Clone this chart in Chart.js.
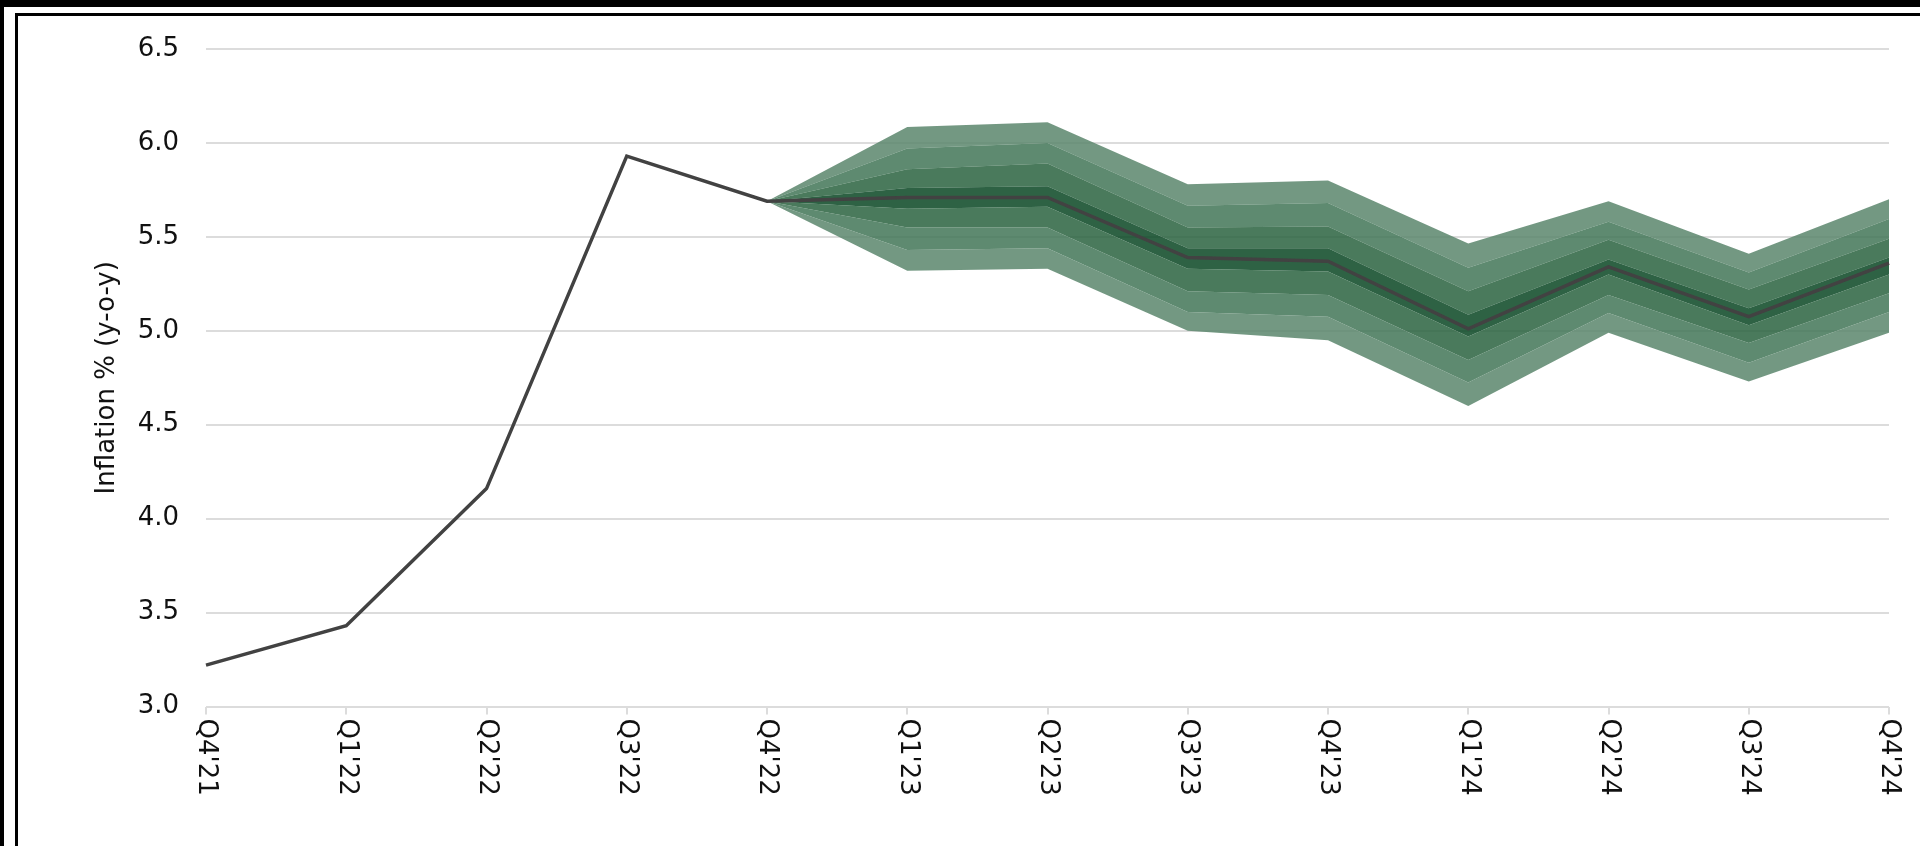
<!DOCTYPE html>
<html>
<head>
<meta charset="utf-8">
<script src="https://cdn.jsdelivr.net/npm/chart.js@4.4.0/dist/chart.umd.min.js"></script>
<style>
  html, body { margin: 0; padding: 0; background: #fff; overflow: hidden; }
  #wrap { position: relative; width: 1920px; height: 846px; }
  #myChart { position: absolute; left: 0; top: 0; }
  .frame { position: absolute; background: #000; }
</style>
</head>
<body>
<div id="wrap">
  <canvas id="myChart" width="1920" height="846"></canvas>
  <div class="frame" style="left:0;top:0;width:4px;height:846px"></div>
  <div class="frame" style="left:0;top:0;width:1920px;height:7px"></div>
  <div class="frame" style="left:15px;top:13px;width:3px;height:833px"></div>
  <div class="frame" style="left:15px;top:13px;width:1905px;height:3px"></div>
</div>
<script>
var quarters = ["Q4'21", "Q1'22", "Q2'22", "Q3'22", "Q4'22", "Q1'23", "Q2'23",
                "Q3'23", "Q4'23", "Q1'24", "Q2'24", "Q3'24", "Q4'24"];

// central projection (actuals up to Q4'22)
var inflation = [3.22, 3.43, 4.16, 5.93, 5.69, 5.71, 5.71, 5.39, 5.37, 5.01, 5.34, 5.075, 5.36];

// fan chart bands, outer to inner
var upper4 = [null, null, null, null, 5.69, 6.085, 6.11, 5.78, 5.80, 5.465, 5.69, 5.41, 5.70];
var upper3 = [null, null, null, null, 5.69, 5.97, 6.00, 5.665, 5.68, 5.335, 5.58, 5.31, 5.595];
var upper2 = [null, null, null, null, 5.69, 5.86, 5.89, 5.55, 5.555, 5.21, 5.485, 5.22, 5.49];
var upper1 = [null, null, null, null, 5.69, 5.76, 5.77, 5.44, 5.44, 5.085, 5.38, 5.12, 5.39];
var lower1 = [null, null, null, null, 5.69, 5.65, 5.66, 5.33, 5.315, 4.97, 5.30, 5.03, 5.30];
var lower2 = [null, null, null, null, 5.69, 5.55, 5.55, 5.21, 5.19, 4.845, 5.19, 4.935, 5.20];
var lower3 = [null, null, null, null, 5.69, 5.43, 5.44, 5.10, 5.075, 4.725, 5.095, 4.83, 5.10];
var lower4 = [null, null, null, null, 5.69, 5.32, 5.33, 5.00, 4.95, 4.60, 4.99, 4.73, 4.99];

var bandColors = [
  "rgba(90,134,108,0.85)",  // outer
  "rgba(66,117,87,0.85)",
  "rgba(42,99,63,0.85)",
  "rgba(9,71,35,0.85)"      // inner
];

var fontFamily = "'DejaVu Sans', Verdana, sans-serif";
var textColor = "#111111";

function band(data, fill, color) {
  return {
    data: data,
    fill: fill,
    backgroundColor: color,
    borderColor: "rgba(0,0,0,0)",
    borderWidth: 0,
    pointRadius: 0,
    tension: 0
  };
}

// x labels read top to bottom, so draw them by hand at the tick positions
var rotatedLabels = {
  id: "rotatedLabels",
  afterDraw: function(chart) {
    var scale = chart.scales.x;
    var ctx = chart.ctx;
    ctx.save();
    ctx.font = "26px " + fontFamily;
    ctx.fillStyle = textColor;
    ctx.textAlign = "left";
    ctx.textBaseline = "middle";
    chart.data.labels.forEach(function(label, i) {
      var x = scale.getPixelForTick(i);
      ctx.save();
      ctx.translate(x, scale.top + 12);
      ctx.rotate(Math.PI / 2);
      ctx.fillText(label, 0, 0);
      ctx.restore();
    });
    ctx.restore();
  }
};

var ctx = document.getElementById("myChart");
var fanChart = new Chart(ctx, {
  type: "line",
  data: {
    labels: quarters,
    datasets: [
      {
        data: inflation,
        fill: false,
        borderColor: "#424242",
        borderWidth: 3.5,
        pointRadius: 0,
        tension: 0
      },
      band(lower4, false, bandColors[0]),
      band(lower3, "-1", bandColors[0]),
      band(lower2, "-1", bandColors[1]),
      band(lower1, "-1", bandColors[2]),
      band(upper1, "-1", bandColors[3]),
      band(upper2, "-1", bandColors[2]),
      band(upper3, "-1", bandColors[1]),
      band(upper4, "-1", bandColors[0])
    ]
  },
  options: {
    responsive: false,
    animation: false,
    layout: { padding: { top: 49, right: 31, bottom: 0, left: 0 } },
    plugins: {
      legend: { display: false },
      tooltip: { enabled: false }
    },
    scales: {
      x: {
        offset: false,
        border: { display: false },
        grid: {
          drawOnChartArea: false,
          drawTicks: true,
          tickLength: 8,
          color: "#dcdcdc",
          lineWidth: 2
        },
        ticks: { display: false },
        afterFit: function(scale) { scale.height = 139.5; }
      },
      y: {
        min: 3.0,
        max: 6.5,
        border: { display: false },
        grid: { drawTicks: false, color: "#dcdcdc", lineWidth: 2 },
        ticks: {
          stepSize: 0.5,
          padding: 27,
          color: textColor,
          font: { family: fontFamily, size: 26 },
          callback: function(v) { return v.toFixed(1); }
        },
        title: {
          display: true,
          text: "Inflation % (y-o-y)",
          color: textColor,
          font: { family: fontFamily, size: 26 },
          padding: { top: 92, bottom: 0 }
        },
        afterFit: function(scale) { scale.width = 206; }
      }
    }
  },
  plugins: [rotatedLabels]
});
</script>
</body>
</html>
